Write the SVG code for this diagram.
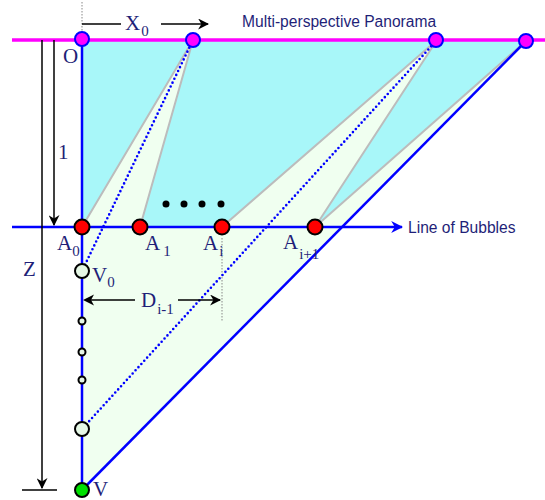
<svg xmlns="http://www.w3.org/2000/svg" width="545" height="500" viewBox="0 0 545 500">
<style>
.lbl{font-family:"Liberation Serif",serif;font-size:21px;fill:#1f1f78}
.sub{font-size:15px}
.sans{font-family:"Liberation Sans",Arial,sans-serif;font-size:15.6px;fill:#1f1f78}
.blue{stroke:#0000ff;stroke-width:2.5;fill:none}
.dot{stroke:#0000ff;stroke-width:2.6;fill:none;stroke-dasharray:0 4.3;stroke-linecap:round}
.grey{stroke:#bcbcbc;stroke-width:2;fill:#f0fff0}
.blk{stroke:#000;stroke-width:1.5;fill:none}
.top{fill:#ff00ff;stroke:#0000ff;stroke-width:2}
.red{fill:#ff0000;stroke:#000;stroke-width:2}
.pale{fill:#e6f8e6;stroke:#000;stroke-width:2}
</style>
<defs>
<marker id="ah" viewBox="0 0 10 10" refX="9" refY="5" markerWidth="11" markerHeight="11" markerUnits="userSpaceOnUse" orient="auto"><path d="M0,0 L10,5 L0,10 L3,5 Z" fill="#000"/></marker>
<marker id="bh" viewBox="0 0 10 10" refX="9" refY="5" markerWidth="12" markerHeight="12" markerUnits="userSpaceOnUse" orient="auto"><path d="M0,0 L10,5 L0,10 L3,5 Z" fill="#0000ff"/></marker>
</defs>
<g id="regions">
<polygon points="82,40 526,40 342,227 82,227" fill="#a8f7f9"/>
<polygon points="82,227 342,227 82,490" fill="#f0fff0"/>
<polygon points="82,227 193,40 140,227" fill="#f0fff0"/>
<polygon points="222,227 437,40 315,227" fill="#f0fff0"/>
<polygon points="315,227 526,41 342,227" fill="#f0fff0"/>
</g>
<g id="connectors">
<line x1="82" y1="2" x2="82" y2="38" stroke="#888" stroke-width="1" stroke-dasharray="1.5 1.5"/>
<line x1="222" y1="238" x2="222" y2="322" stroke="#888" stroke-width="1" stroke-dasharray="1.5 1.5"/>
<line x1="12" y1="40" x2="545" y2="40" stroke="#ff00ff" stroke-width="3.5"/>
<path class="grey" fill="none" d="M82,227 L193,40 L140,227"/>
<path class="grey" fill="none" d="M222,227 L437,40 L315,227"/>
<line class="grey" x1="315" y1="227" x2="526" y2="41"/>
<line class="dot" x1="193" y1="40" x2="82" y2="271"/>
<line class="dot" x1="437" y1="40" x2="82" y2="429"/>
<line class="blue" x1="12" y1="227" x2="402" y2="227" marker-end="url(#bh)"/>
<line class="blue" x1="82" y1="40" x2="82" y2="490"/>
<line class="blue" x1="526" y1="41" x2="82" y2="490"/>
<line class="blk" x1="42" y1="40" x2="42" y2="488" marker-end="url(#ah)"/>
<line class="blk" x1="22" y1="490" x2="57" y2="490"/>
<line class="blk" x1="54" y1="40" x2="54" y2="225" marker-end="url(#ah)"/>
<line class="blk" x1="82" y1="24" x2="121" y2="24"/>
<line class="blk" x1="161" y1="24" x2="208" y2="24" marker-end="url(#ah)"/>
<line class="blk" x1="86" y1="300" x2="135" y2="300"/>
<line class="blk" x1="178" y1="300" x2="220" y2="300" marker-end="url(#ah)"/>
<path d="M83,300 L94,294.5 L91,300 L94,305.5 Z" fill="#000"/>
</g>
<g id="dots" fill="#000">
<circle cx="166" cy="204" r="3.5"/><circle cx="184" cy="204" r="3.5"/><circle cx="202" cy="204" r="3.5"/><circle cx="221" cy="204" r="3.5"/>
</g>
<g id="node-O"><circle class="top" cx="82" cy="39" r="7"/><text class="lbl" x="63" y="63">O</text></g>
<g id="node-P1"><circle class="top" cx="193" cy="40" r="7"/></g>
<g id="node-P2"><circle class="top" cx="436" cy="40" r="7"/></g>
<g id="node-P3"><circle class="top" cx="526" cy="41" r="7"/></g>
<g id="node-A0"><circle class="red" cx="82" cy="227" r="7.5"/><text class="lbl" x="57" y="250">A<tspan class="sub" dy="6">0</tspan></text></g>
<g id="node-A1"><circle class="red" cx="140" cy="227" r="7.5"/><text class="lbl" x="145" y="250">A<tspan class="sub" dx="3" dy="6">1</tspan></text></g>
<g id="node-Ai"><circle class="red" cx="222" cy="227" r="7.5"/><text class="lbl" x="203" y="250">A<tspan class="sub" dx="1" dy="6">i</tspan></text></g>
<g id="node-Ai1"><circle class="red" cx="315" cy="227" r="7.5"/><text class="lbl" x="283" y="249">A<tspan class="sub" dx="1" dy="10">i+1</tspan></text></g>
<g id="node-V0"><circle class="pale" cx="82" cy="271" r="7"/><text class="lbl" x="92" y="282">V<tspan class="sub" dy="5">0</tspan></text></g>
<g id="node-s1"><circle class="pale" cx="82" cy="321" r="3.5" fill="#fff"/></g>
<g id="node-s2"><circle class="pale" cx="82" cy="352" r="3.5" fill="#fff"/></g>
<g id="node-s3"><circle class="pale" cx="82" cy="380" r="3.5" fill="#fff"/></g>
<g id="node-V1"><circle class="pale" cx="82" cy="429" r="7"/></g>
<g id="node-V"><circle cx="82" cy="490" r="7" fill="#00e000" stroke="#000" stroke-width="2"/><text class="lbl" x="93" y="496">V</text></g>
<g id="labels">
<text class="lbl" x="125" y="30">X<tspan class="sub" dx="1" dy="6">0</tspan></text>
<text class="lbl" x="141" y="307">D<tspan class="sub" dx="1" dy="7">i-1</tspan></text>
<text class="lbl" x="58" y="159">1</text>
<text class="lbl" x="23" y="276">Z</text>
<text class="sans" x="242" y="27">Multi-perspective Panorama</text>
<text class="sans" x="408" y="233">Line of Bubbles</text>
</g>
</svg>
